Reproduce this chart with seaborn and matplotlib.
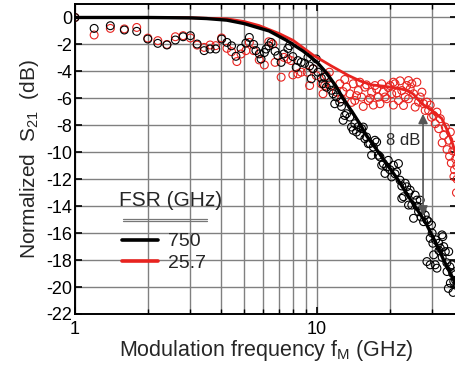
import matplotlib
matplotlib.use("Agg")
import matplotlib.pyplot as plt
import seaborn as sns

# --- data ----------------------------------------------------------------
# measured S21, FSR = 750 GHz (black open circles)
f_750 = [1.0, 1.2, 1.4, 1.6, 1.8, 2.0, 2.2, 2.4, 2.6, 2.8, 3.0, 3.2, 3.42, 3.62, 3.82,
         4.04, 4.25, 4.44, 4.63, 4.86, 5.09, 5.26, 5.48, 5.60, 5.78, 5.88, 6.07, 6.17,
         6.33, 6.47, 6.72, 6.90, 7.12, 7.31, 7.59, 7.71, 7.96, 8.22, 8.35, 8.62, 8.9,
         9.19, 9.34, 9.49, 9.64, 9.95, 10.12, 10.44, 10.61, 10.77, 10.95, 11.27, 11.49,
         11.68, 11.86, 12.05, 12.44, 12.65, 12.85, 13.05, 13.27, 13.69, 13.92, 14.14,
         14.36, 14.60, 14.84, 15.07, 15.31, 15.56, 15.80, 16.05, 16.33, 16.58, 16.85,
         17.13, 17.39, 17.68, 17.97, 18.25, 18.55, 18.85, 19.14, 19.45, 19.75, 20.07,
         20.40, 20.74, 21.06, 21.41, 21.76, 22.10, 22.46, 22.83, 23.2, 23.56, 23.95,
         24.32, 24.71, 25.12, 25.51, 25.93, 26.35, 26.76, 27.20, 27.64, 28.07, 28.53,
         29.00, 29.44, 29.8, 30.2, 30.42, 30.88, 31.39, 31.92, 32.41, 32.94, 33.2,
         33.48, 34.00, 34.56, 35.12, 35.67, 36.25, 36.84, 37.41, 38.0,
         22.46, 24.0, 26.0, 27.0, 28.53, 29.44, 30.0, 31.0, 32.0, 33.0, 34.5, 35.0,
         35.5, 36.5, 36.6, 37.5]
db_750 = [0.0, -0.81, -0.61, -0.93, -1.03, -1.60, -1.92, -2.04, -1.67, -1.43, -1.35,
          -1.97, -2.46, -2.34, -2.34, -1.60, -1.85, -2.1, -2.88, -2.3, -1.9, -1.48,
          -2.0, -2.46, -2.7, -3.08, -2.6, -2.34, -2.1, -1.85, -2.5, -2.83, -3.33, -2.7,
          -2.3, -2.09, -2.9, -3.70, -3.20, -3.33, -3.4, -2.96, -3.6, -4.55, -3.8, -3.08,
          -4.06, -4.5, -4.92, -4.43, -5.17, -5.0, -5.4, -5.66, -6.40, -5.9, -6.28, -6.6,
          -7.63, -7.27, -7.14, -7.39, -8.13, -8.37, -7.88, -8.50, -8.1, -8.74, -8.25,
          -8.13, -8.99, -8.87, -9.36, -9.36, -10.22, -9.61, -9.11, -9.24, -10.22,
          -10.35, -10.96, -10.84, -11.57, -11.09, -10.6, -11.3, -11.83, -10.96, -11.6,
          -11.46, -10.84, -12.07, -13.42, -13.30, -12.3, -12.56, -13.92, -12.81,
          -13.92, -14.90, -13.18, -13.55, -14.41, -13.55, -14.29, -15.15, -14.66,
          -15.03, -15.15, -16.38, -15.4, -16.75, -17.61, -18.35, -18.6, -16.75, -17.12,
          -16.13, -16.26, -17.0, -17.37, -18.85, -17.37, -19.70, -18.35, -19.58, -19.09,
          -19.82,
          -12.5, -13.0, -14.0, -14.8, -18.11, -18.35, -16.0, -16.5, -17.3, -17.8,
          -18.2, -20.1, -18.5, -19.0, -20.4, -19.5]

# measured S21, FSR = 25.7 GHz (red open circles)
f_257 = [1.0, 1.2, 1.4, 1.6, 1.8, 2.0, 2.2, 2.4, 2.6, 2.8, 3.0, 3.2, 3.42, 3.62, 3.82,
         4.04, 4.25, 4.44, 4.67, 4.86, 5.09, 5.26, 5.48, 5.78, 6.07, 6.33, 6.58, 6.72,
         7.12, 7.31, 7.59, 7.83, 7.96, 8.35, 8.62, 9.13, 9.34, 9.64, 9.95, 10.44,
         10.61, 10.95, 11.27, 10.77, 11.49, 12.05, 12.44, 12.65, 13.27, 13.69, 14.14,
         14.36, 14.84, 15.31, 15.80, 16.33, 16.85, 17.39, 17.97, 18.55, 18.85, 19.45,
         20.07, 20.40, 21.06, 21.76, 22.46, 22.83, 23.56, 23.95, 24.71, 25.12, 25.51,
         26.35, 27.20, 27.64, 28.53, 29.00, 30.42, 31.39, 30.88, 31.92, 32.41, 33.48,
         34.00, 35.12, 35.67, 36.84,
         12.85, 13.05, 13.92, 14.6, 15.07, 15.56, 16.05, 16.58, 17.13, 17.68, 18.25,
         19.14, 19.75, 20.74, 21.41, 22.1, 23.2, 24.32, 25.93, 26.76, 28.07, 29.44,
         29.8, 20.74, 23.95,
         33.0, 34.56, 35.4, 36.0, 36.5, 37.1, 37.5, 38.0, 37.8, 36.9, 37.9]
db_257 = [0.0, -1.30, -0.81, -0.85, -0.74, -1.53, -1.72, -2.0, -1.43, -1.35, -1.52,
          -2.05, -2.22, -2.04, -2.09, -1.52, -2.29, -2.54, -3.27, -2.71, -2.46, -1.85,
          -2.46, -3.15, -3.52, -1.80, -1.97, -3.33, -4.43, -2.96, -3.08, -3.20, -4.26,
          -4.18, -4.06, -4.06, -5.05, -3.81, -4.31, -4.92, -5.66, -4.31, -4.06, -5.05,
          -5.05, -5.54, -4.92, -6.03, -5.17, -5.66, -4.92, -6.16, -5.42, -5.91, -5.17,
          -6.16, -5.54, -5.05, -5.91, -4.92, -5.54, -6.03, -5.05, -5.66, -4.92, -6.16,
          -5.42, -6.53, -5.05, -6.03, -4.92, -5.66, -6.65, -6.28, -5.54, -6.40, -6.28,
          -6.90, -7.27, -7.02, -7.88, -8.25, -7.51, -8.74, -8.13, -9.11, -8.50, -9.48,
          -5.5, -4.6, -6.3, -5.8, -4.8, -6.6, -5.0, -6.0, -6.5, -5.3, -6.4, -5.9, -5.2,
          -6.5, -5.6, -4.7, -5.9, -5.3, -4.8, -5.9, -6.9, -6.5, -7.4, -4.8, -4.68,
          -9.3, -9.8, -10.3, -10.8, -9.9, -11.3, -10.5, -12.0, -13.0, -11.8, -11.0]

# fitted responses (solid lines)
f_fit_750 = [1.0, 2.0, 3.0, 3.5, 4.25, 5.0, 6.35, 7.5, 8.79, 10.0, 10.95, 12.0, 12.85,
             14.0, 15.07, 16.1, 17.68, 19.5, 21.41, 23.2, 25.2, 26.8, 28.53, 31.0,
             33.48, 35.7, 38.0]
db_fit_750 = [0.0, 0.0, -0.03, -0.08, -0.2, -0.45, -1.0, -1.7, -2.5, -3.3, -4.1, -5.1,
              -6.0, -7.0, -7.9, -8.8, -9.8, -10.9, -11.9, -12.9, -13.9, -14.6, -15.4,
              -16.7, -18.0, -19.0, -19.9]
f_fit_257 = [1.0, 2.0, 3.0, 4.25, 5.0, 5.77, 7.0, 7.98, 9.67, 11.49, 13.5, 15.07, 16.85,
             18.9, 21.76, 24.0, 25.12, 27.2, 29.9, 32.9, 35.1, 36.5, 38.0]
db_fit_257 = [0.0, 0.0, -0.02, -0.1, -0.3, -0.6, -1.2, -1.7, -2.8, -3.6, -4.3, -4.7,
              -5.0, -5.1, -5.25, -5.45, -5.7, -6.4, -6.9, -7.5, -8.6, -9.4, -10.5]

fsr_labels = ["750", "25.7"]
red = "#e8231f"

sns.set_theme(style="ticks")
plt.rcParams["font.family"] = ["Liberation Sans", "DejaVu Sans"]
plt.rcParams["mathtext.fontset"] = "custom"
plt.rcParams["mathtext.rm"] = "Liberation Sans"
plt.rcParams["mathtext.it"] = "Liberation Sans"
plt.rcParams["axes.unicode_minus"] = False

fig = plt.figure(figsize=(4.55, 3.7), dpi=100)
ax = fig.add_axes([75 / 455, 56 / 370, 382 / 455, 310 / 370])

sns.scatterplot(x=f_257, y=db_257, ax=ax, marker="o", s=32, facecolor="none",
                edgecolor=red, linewidth=0.8, zorder=3)
sns.scatterplot(x=f_750, y=db_750, ax=ax, marker="o", s=32, facecolor="none",
                edgecolor="black", linewidth=0.8, zorder=3)
sns.lineplot(x=f_fit_257, y=db_fit_257, ax=ax, color=red, lw=2.0, zorder=4,
             label=fsr_labels[1], sort=False)
sns.lineplot(x=f_fit_750, y=db_fit_750, ax=ax, color="black", lw=2.4, zorder=5,
             label=fsr_labels[0], sort=False)

ax.set_xscale("log")
ax.set_xlim(1, 38)
ax.set_ylim(-22, 1)
ax.set_yticks(range(-22, 1, 2))
ax.set_xticks([1, 10])
ax.set_xticklabels(["1", "10"])

ax.grid(True, which="both", axis="x", color="#808080", lw=1.0)
ax.grid(True, which="major", axis="y", color="#808080", lw=1.0)
ax.set_axisbelow(True)
for sp in ax.spines.values():
    sp.set_color("black")
    sp.set_linewidth(1.4)
ax.tick_params(which="both", direction="in", top=True, right=True,
               colors="black", labelsize=13)
ax.tick_params(which="major", length=5, width=1.2)
ax.tick_params(which="minor", length=3.5, width=1.0)
ax.tick_params(axis="x", pad=5)
ax.tick_params(axis="y", pad=2)

ax.set_xlabel("Modulation frequency f$_\\mathrm{M}$ (GHz)", fontsize=15.5, labelpad=0)
ax.set_ylabel("Normalized  S$_{21}$  (dB)", fontsize=15, labelpad=4)

# 8 dB separation arrow
ax.annotate("", xy=(27.5, -7.15), xytext=(27.5, -14.7),
            arrowprops=dict(arrowstyle="<|-|>", color="#555555", lw=1.2,
                            mutation_scale=14, shrinkA=0, shrinkB=0), zorder=6)
ax.text(26.8, -9.1, "8 dB", fontsize=12, ha="right", va="center", zorder=6)

handles, labels = ax.get_legend_handles_labels()
order = [labels.index(l) for l in fsr_labels]
leg = ax.legend([handles[i] for i in order], [labels[i] for i in order],
                loc="upper left", bbox_to_anchor=(0.123, 0.262), borderaxespad=0,
                borderpad=0, frameon=False, fontsize=14, handlelength=1.85,
                handletextpad=0.5, labelspacing=0.2)
for line in leg.get_lines():
    line.set_linewidth(2.6)
# legend title with a double rule below it
ax.text(0.249, 0.365, "FSR (GHz)", transform=ax.transAxes, fontsize=15,
        ha="center", va="center")
ax.plot([0.126, 0.346], [0.308, 0.308], color="#777777", lw=0.9,
        transform=ax.transAxes, clip_on=False, zorder=7)
ax.plot([0.126, 0.346], [0.300, 0.300], color="#777777", lw=0.9,
        transform=ax.transAxes, clip_on=False, zorder=7)

fig.savefig("out.png", dpi=100)
